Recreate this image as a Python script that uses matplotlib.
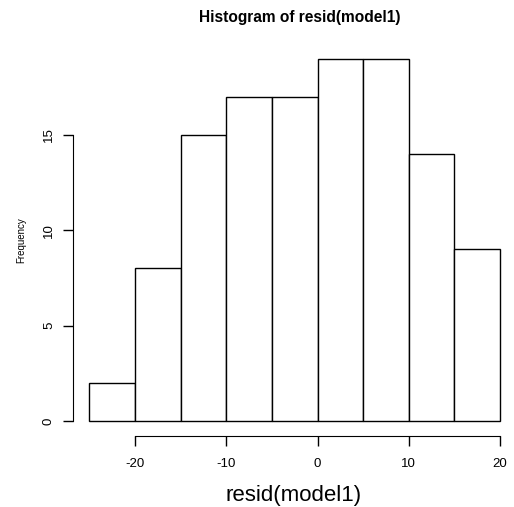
import numpy as np
import matplotlib.pyplot as plt

plt.rcParams['font.family'] = ['Liberation Sans', 'DejaVu Sans']
plt.rcParams['axes.unicode_minus'] = False

# histogram of residuals, bins of width 5
bin_edges = [-25, -20, -15, -10, -5, 0, 5, 10, 15, 20]
counts = [2, 8, 15, 17, 17, 19, 19, 14, 9]
xticks = [-20, -10, 0, 10, 20]
yticks = [0, 5, 10, 15]

fig = plt.figure(figsize=(5.14, 5.07), dpi=100)
ax = fig.add_axes([73/514, 71.5/507, 441/514, 391.5/507])

edges = np.asarray(bin_edges)
ax.bar(edges[:-1], counts, width=np.diff(edges), align='edge',
       facecolor='white', edgecolor='black', linewidth=1.0)

ax.set_xlim(-26.8, -26.8 + 441/9.125)
ax.set_ylim(-0.76, 19.76)

for s in ['top', 'right']:
    ax.spines[s].set_visible(False)
ax.spines['bottom'].set_bounds(xticks[0], xticks[-1])
ax.spines['left'].set_bounds(yticks[0], yticks[-1])

ax.set_xticks(xticks)
ax.set_xticklabels([str(t) for t in xticks])
ax.set_yticks(yticks)
ax.set_yticklabels([str(t) for t in yticks], rotation=90, va='center')
ax.tick_params(axis='both', length=7, width=1, labelsize=9.5)
ax.tick_params(axis='x', pad=9)
ax.tick_params(axis='y', pad=6)

ax.set_title("Histogram of resid(model1)", fontsize=11.2, fontweight='bold', pad=16, x=0.515)
ax.set_xlabel("resid(model1)", fontsize=16, labelpad=11)
ax.set_ylabel("Frequency", fontsize=7, labelpad=12)

fig.savefig("out.png", dpi=100)
